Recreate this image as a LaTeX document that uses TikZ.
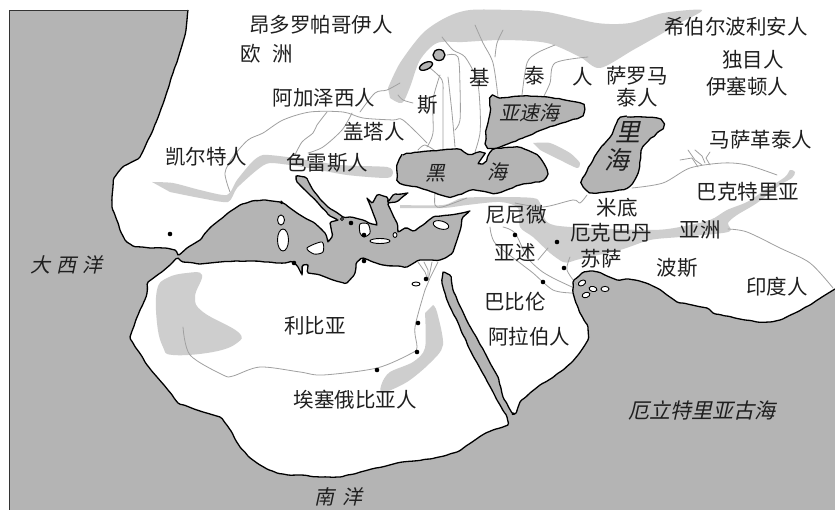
\documentclass[tikz,border=0pt]{standalone}
\usepackage{fontspec}
\setmainfont{Noto Sans CJK SC}
\newfontfamily\slantcjk[FakeSlant=0.22]{Noto Sans CJK SC}
\usetikzlibrary{decorations.pathmorphing}
\definecolor{oceangrey}{HTML}{B4B4B4}
\definecolor{patchgrey}{HTML}{CECECE}
\definecolor{rivergrey}{HTML}{A0A0A0}
\tikzset{
  coast/.style={draw=black,line width=1.3pt,line join=round},
  wobble/.style={decorate,decoration={random steps,segment length=5pt,amplitude=.45pt},rounded corners=1.5pt},
  seaarea/.style={coast,fill=oceangrey,decorate,decoration={random steps,segment length=4pt,amplitude=.35pt}},
  islandarea/.style={draw=black,line width=.9pt,fill=white},
  patcharea/.style={fill=patchgrey},
  river/.style={draw=rivergrey,line width=.8pt,line cap=round,line join=round},
  town/.style={circle,fill=black,inner sep=0pt,minimum size=4.6pt},
  place/.style={inner sep=0pt,font=\fontsize{20.5}{21}\selectfont,text=black!88},
  seaname/.style={inner sep=0pt,font=\fontsize{20}{21}\slantcjk,text=black!88},
}
\newcommand{\landcoast}{plot coordinates {
 (188,10) (187,20) (186,30) (183,42) (180,52) (177,62) (173,73) (169,86) (165,98) (161,109) (157,120) (153,130) (148,140) (144,149) (140,157) (130,163) (124,166) (120,170) (114,178) (113,187) (112,197) (112,207) (116,218) (120,230) (125,240) (133,246) (142,247) (150,248) (165,248) (175,250) (178,255)
 (187,248) (200,240) (208,230) (217,222) (228,213) (240,205) (252,201) (263,200) (272,201) (280,202) (283,203) (290,208) (297,213) (305,218) (313,222) (319,227) (325,233) (327,238) (328,242) (332,237) (331,228) (330,223) (338,220) (330,216) (318,203) (307,192) (297,182) (296,176) (305,177) (313,190) (320,199) (328,207) (336,212) (343,217) (350,217) (363,220) (369,223) (377,225) (373,213) (370,205) (367,198) (372,203) (377,195) (387,197) (388,202) (393,195) (408,193) (398,201) (388,203) (392,213) (397,223) (398,232) (405,228) (413,231) (423,225) (433,217) (450,215) (462,213) (470,211) (463,217) (461,227) (458,237) (455,246) (453,252) (447,257) (440,260) (430,260) (420,260) (407,267) (395,266) (383,265) (373,262) (363,258) (357,262) (355,273) (347,283) (340,282) (333,280) (320,275) (308,273) (308,265) (303,265) (302,275) (298,267) (293,262) (285,263) (277,263) (265,262) (253,261) (237,261) (220,262) (210,263) (200,264) (183,262) (178,258)
 (170,265) (163,271) (148,282) (147,293) (143,304) (138,315) (134,326) (130,337) (133,343) (139,352) (145,362) (151,370) (157,377) (168,390) (178,403) (189,407) (200,411) (210,414) (220,417) (226,424) (231,431) (235,439) (240,447) (248,456) (257,463) (267,469) (277,473) (288,475) (300,475) (320,477) (340,477) (354,474) (368,470) (382,467) (397,463) (414,461) (430,459) (444,456) (457,452) (466,446) (475,440) (484,434) (493,430) (508,425) (507,417)
 (500,405) (493,392) (482,372) (470,350) (459,325) (447,300) (442,283) (443,272) (450,275) (453,290) (462,310) (472,330) (485,353) (498,377) (503,397) (512,413) (515,414) (520,402) (530,393) (540,385) (552,378) (563,370) (571,363) (578,355) (588,340) (588,327) (580,313) (576,303) (573,293) (573,282) (582,273) (590,271) (598,272) (607,276) (617,280) (626,279) (635,280) (646,283) (657,288) (667,295) (677,302) (692,305) (707,308) (713,313) (735,318) (757,322) (770,322) (780,320) (795,313) (810,305) (822,297) (835,289)
}}
\begin{document}
\begin{tikzpicture}[x=1pt,y=-1pt]
\useasboundingbox (0,0) rectangle (835,510);
% ocean and land
\fill[oceangrey] (9.5,10) rectangle (835,510);
\fill[white] \landcoast -- (835,0) -- (188,0) -- cycle;
% mountain ranges
\fill[patcharea] plot[smooth,tension=.5] coordinates {(388,88) (400,63) (423,33) (447,17) (470,10) (510,10) (547,12) (597,23) (630,23) (663,13) (702,10) (680,23) (663,33) (633,50) (600,68) (580,57) (547,43) (503,40) (463,42) (437,43) (420,60) (410,87) (402,103) (390,98)};
\fill[patcharea] plot[smooth,tension=.4] coordinates {(152,182) (173,183) (200,190) (227,195) (237,180) (252,162) (263,155) (287,157) (340,165) (387,167) (393,173) (387,178) (347,175) (303,167) (270,163) (257,170) (237,188) (228,202) (200,198) (170,192)};
\fill[patcharea] plot[smooth,tension=.4] coordinates {(533,143) (550,143) (570,153) (580,163) (577,168) (560,160) (540,150)};
\fill[patcharea] plot[smooth,tension=.5] coordinates {(400,205) (443,205) (463,198) (500,197) (533,198) (540,203) (547,222) (570,227) (650,230) (680,227) (710,220) (727,210) (747,202) (765,190) (785,177) (790,170) (795,172) (792,178) (780,185) (757,203) (737,215) (728,223) (728,232) (680,237) (650,240) (620,250) (580,259) (570,262) (563,262) (550,253) (533,237) (520,227) (518,208) (500,202) (467,205) (443,208) (400,208)};
\fill[patcharea] plot[smooth cycle,tension=.7] coordinates {(157,290) (167,278) (187,273) (202,275) (195,297) (203,312) (238,332) (237,343) (213,352) (173,355) (163,347) (157,323)};
\fill[patcharea] plot[smooth,tension=.5] coordinates {(433,305) (437,312) (443,345) (430,363) (407,382) (382,393) (382,383) (390,372) (413,362) (425,348) (425,313)} -- cycle;
% rivers
\draw[river] plot[smooth] coordinates {(230,192) (225,173) (233,157) (248,140) (263,133) (283,120) (310,112) (343,112) (363,118) (393,120) (403,120) (427,143)};
\draw[river] plot[smooth] coordinates {(327,112) (317,125) (313,133) (302,142) (295,155)};
\draw[river] plot[smooth] coordinates {(352,113) (342,130) (323,147) (308,153)};
\draw[river] plot[smooth] coordinates {(360,112) (375,93) (387,90) (400,83)};
\draw[river] plot[smooth] coordinates {(398,95) (403,100) (413,103)};
\draw[river] plot[smooth] coordinates {(440,75) (433,100) (433,133) (427,147)};
\draw[river] plot[smooth] coordinates {(430,68) (442,80) (443,97) (443,127) (443,150)};
\draw[river] plot[smooth] coordinates {(442,37) (453,50) (465,57) (477,80) (480,107) (480,133) (475,152)};
\draw[river] plot[smooth] coordinates {(447,55) (458,57) (460,87) (460,120) (455,130)};
\draw[river] plot[smooth] coordinates {(448,77) (452,113) (455,147)};
\draw[river] plot[smooth] coordinates {(475,25) (483,43) (493,63) (498,97)};
\draw[river] plot[smooth] coordinates {(503,30) (497,43) (495,57)};
\draw[river] plot[smooth] coordinates {(555,45) (537,53) (527,63) (522,95)};
\draw[river] plot[smooth] coordinates {(588,57) (555,63) (550,83) (543,98)};
\draw[river] plot[smooth] coordinates {(418,150) (425,145) (437,152)};
\draw[river] plot[smooth] coordinates {(435,193) (435,205) (442,207) (467,198)};
\draw[river] plot[smooth] coordinates {(515,203) (543,207) (573,200) (580,203) (587,195)};
\draw[river] plot[smooth] coordinates {(632,188) (663,183) (690,168) (723,163) (747,165) (777,175)};
\draw[river] plot coordinates {(680,160) (692,158) (698,167)};
\draw[river] plot coordinates {(688,150) (695,160) (702,165)};
\draw[river] plot coordinates {(695,150) (702,156) (705,163)};
\draw[river] plot coordinates {(710,152) (706,158) (710,165)};
\draw[river] plot[smooth] coordinates {(728,229) (747,232) (780,248) (810,263) (833,288)};
\draw[river] plot[smooth] coordinates {(490,227) (495,243) (520,263) (533,273) (553,290) (572,293)};
\draw[river] plot[smooth] coordinates {(503,227) (515,233) (527,257) (540,270) (553,278) (572,287)};
\draw[river] plot coordinates {(548,248) (538,260)};
\draw[river] plot[smooth] coordinates {(570,257) (567,270) (577,285)};
\draw[river] plot[smooth] coordinates {(425,290) (415,327) (417,347) (412,353) (377,368) (323,375) (300,372) (260,367) (233,376) (223,375) (190,355) (183,327)};
\draw[river] plot coordinates {(418,262) (425,272) (428,280)};
\draw[river] plot coordinates {(424,262) (428,270) (428,280)};
\draw[river] plot coordinates {(432,262) (430,272) (428,280)};
\draw[river] plot coordinates {(438,262) (430,278) (425,290)};
% inner seas
\path[seaarea] plot[smooth cycle,tension=.4] coordinates {(398,163) (403,155) (420,152) (442,150) (457,149) (468,154) (480,152) (481,157) (477,160) (483,163) (493,150) (517,147) (537,155) (547,170) (543,180) (520,185) (497,193) (473,190) (450,197) (420,188) (400,183) (397,170)};
\path[seaarea] plot[smooth cycle,tension=.4] coordinates {(490,98) (500,98) (523,96) (547,97) (580,103) (584,112) (577,118) (547,128) (523,138) (497,148) (488,147) (486,135) (487,127) (490,113)};
\path[seaarea] plot[smooth cycle,tension=.4] coordinates {(618,120) (627,117) (657,118) (663,125) (657,133) (643,147) (638,173) (627,188) (593,193) (582,182) (597,153) (610,137)};
\draw[coast,wobble] \landcoast;
% frame
\draw[black!80,line width=.8pt] (9.5,510) -- (9.5,10) -- (188,10);
% lakes and islands
\path[coast,fill=oceangrey] (439,55) ellipse [x radius=6,y radius=5.5];
\path[coast,fill=oceangrey,rotate around={25:(426,66)}] (426,66) ellipse [x radius=7,y radius=3.5];
\path[islandarea] (281,220) ellipse [x radius=3.5,y radius=5];
\path[islandarea] (283,240) ellipse [x radius=5.5,y radius=11];
\path[islandarea] plot[smooth cycle,tension=.5] coordinates {(307,248) (322,242) (323,252) (314,254)};
\path[islandarea] (380,241) ellipse [x radius=10,y radius=2.5];
\path[islandarea,rotate around={-15:(441,225)}] (441,225) ellipse [x radius=8,y radius=4];
\path[islandarea] (395,235) ellipse [x radius=2,y radius=2.5];
\path[islandarea] (342,219) circle [radius=1.5];
\path[islandarea] plot[smooth cycle,tension=.5] coordinates {(360,224) (368,224) (370,233) (364,237) (360,233)};
\path[islandarea] (416,284) ellipse [x radius=4,y radius=2];
\path[islandarea,rotate around={30:(582,283)}] (582,283) ellipse [x radius=4,y radius=2.6];
\path[islandarea,rotate around={-15:(593,289)}] (593,289) ellipse [x radius=4,y radius=2.6];
\path[islandarea] (605,289) ellipse [x radius=4,y radius=2.6];
\path[islandarea,rotate around={20:(586,295)}] (586,295) ellipse [x radius=4,y radius=2.6];
% towns
\foreach \n/\p in {a/{170,234},b/{294,263},c/{364,261},d/{426,279},e/{418,323},f/{417,352},g/{377,370},h/{515,235},i/{557,242},j/{564,268},k/{543,282},l/{351,223},m/{364,235}}
  \node[town] (town\n) at (\p) {};
% labels
\node[place] (l1) at (321,25) {昂多罗帕哥伊人};
\node[place] (l2) at (267,54) {欧\hspace{12pt}洲};
\node[place] (l3) at (324,98) {阿加泽西人};
\node[place] (l4) at (428,105) {斯};
\node[place] (l5) at (480,77) {基};
\node[place] (l6) at (535,76) {泰};
\node[place] (l7) at (583,77) {人};
\node[place] (l8) at (637,76) {萨罗马};
\node[place] (l9) at (637,98) {泰人};
\node[place] (l10) at (374,132) {盖塔人};
\node[place] (l11) at (327,163) {色雷斯人};
\node[place] (l12) at (206,157) {凯尔特人};
\node[place] (l13) at (736,27) {希伯尔波利安人};
\node[place] (l14) at (753,60) {独目人};
\node[place] (l15) at (747,87) {伊塞顿人};
\node[place] (l16) at (761,140) {马萨革泰人};
\node[place] (l17) at (748,192) {巴克特里亚};
\node[place] (l18) at (700,230) {亚洲};
\node[place] (l19) at (677,268) {波斯};
\node[place] (l20) at (777,287) {印度人};
\node[place] (l21) at (617,208) {米底};
\node[place] (l22) at (611,233) {厄克巴丹};
\node[place] (l23) at (601,259) {苏萨};
\node[place] (l24) at (516,215) {尼尼微};
\node[place] (l25) at (515,253) {亚述};
\node[place] (l26) at (515,302) {巴比伦};
\node[place] (l27) at (529,337) {阿拉伯人};
\node[place] (l28) at (315,326) {利比亚};
\node[place] (l29) at (355,400) {埃塞俄比亚人};
% sea names
\node[seaname] (s1) at (529,113) {亚速海};
\node[seaname,font=\fontsize{25}{26}\slantcjk] (s2) at (628,132) {里};
\node[seaname,font=\fontsize{25}{26}\slantcjk] (s3) at (617,160) {海};
\node[seaname] (s4) at (435,173) {黑};
\node[seaname] (s5) at (497,172) {海};
\node[seaname] (s6) at (66,265) {大\hspace{6pt}西\hspace{6pt}洋};
\node[seaname] (s7) at (338,497) {南\hspace{8pt}洋};
\node[seaname,font=\fontsize{21}{22}\slantcjk] (s8) at (702,410) {厄立特里亚古海};
\end{tikzpicture}
\end{document}
